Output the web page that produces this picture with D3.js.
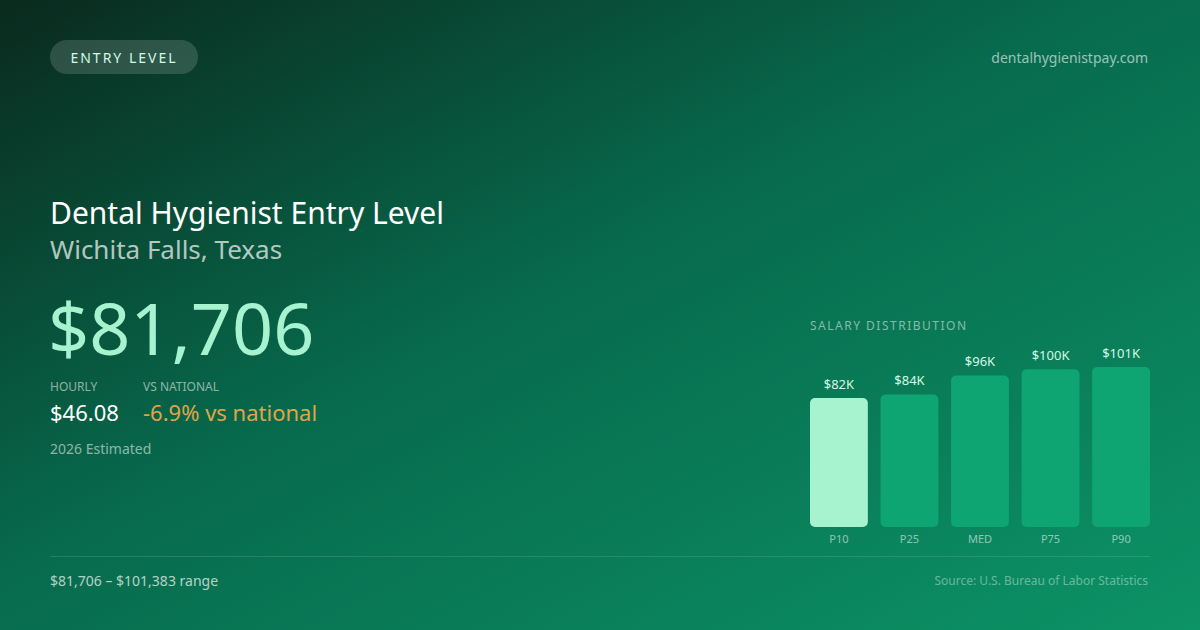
<!DOCTYPE html>
<html><head><meta charset="utf-8">
<script src="https://cdn.jsdelivr.net/npm/d3@7"></script>
<style>html,body{margin:0;padding:0;background:#06553d;}svg{display:block;font-family:"Noto Sans",sans-serif;}</style>
</head><body>
<script>
const categories = ["P10","P25","MED","P75","P90"];
const values = [81706, 84000, 96000, 100000, 101383];
const valueLabels = ["$82K","$84K","$96K","$100K","$101K"];

const W = 1200, H = 630;
const svg = d3.select("body").append("svg").attr("width", W).attr("height", H);
const defs = svg.append("defs");
const g = defs.append("linearGradient").attr("id","bg").attr("x1","0").attr("y1","0").attr("x2","1").attr("y2","1");
g.append("stop").attr("offset","0%").attr("stop-color","#0a2a1e");
g.append("stop").attr("offset","45%").attr("stop-color","#076a4c");
g.append("stop").attr("offset","100%").attr("stop-color","#0c9366");
svg.append("rect").attr("width",W).attr("height",H).attr("fill","url(#bg)");

// badge
svg.append("rect").attr("x",50).attr("y",40).attr("width",148).attr("height",34).attr("rx",17)
  .attr("fill","rgba(255,255,255,0.15)");
svg.append("text").attr("x",124).attr("y",63).attr("text-anchor","middle")
  .attr("font-size",14).attr("letter-spacing","2px").attr("fill","#d1fae5").text("ENTRY LEVEL");
svg.append("text").attr("x",1148).attr("y",63).attr("text-anchor","end")
  .attr("font-size",14).attr("fill","rgba(255,255,255,0.6)").text("dentalhygienistpay.com");

// titles
svg.append("text").attr("x",50).attr("y",224).attr("font-size",30).attr("fill","#ffffff").text("Dental Hygienist Entry Level");
svg.append("text").attr("x",50).attr("y",259).attr("font-size",26).attr("fill","rgba(255,255,255,0.7)").text("Wichita Falls, Texas");
svg.append("text").attr("x",48).attr("y",355).attr("font-size",72).attr("fill","#a7f3d0").text("$81,706");

svg.append("text").attr("x",50).attr("y",391).attr("font-size",12).attr("fill","rgba(255,255,255,0.55)").text("HOURLY");
svg.append("text").attr("x",143).attr("y",391).attr("font-size",12).attr("fill","rgba(255,255,255,0.55)").text("VS NATIONAL");
svg.append("text").attr("x",50).attr("y",421).attr("font-size",22).attr("fill","#ffffff").text("$46.08");
svg.append("text").attr("x",143).attr("y",421).attr("font-size",22).attr("fill","#e0a54a").text("-6.9% vs national");
svg.append("text").attr("x",50).attr("y",454).attr("font-size",14).attr("fill","rgba(255,255,255,0.55)").text("2026 Estimated");

// footer
svg.append("line").attr("x1",50).attr("x2",1150).attr("y1",556.5).attr("y2",556.5).attr("stroke","rgba(255,255,255,0.12)");
svg.append("text").attr("x",50).attr("y",586).attr("font-size",14).attr("fill","rgba(255,255,255,0.7)").text("$81,706 – $101,383 range");
svg.append("text").attr("x",1148).attr("y",585).attr("text-anchor","end").attr("font-size",12).attr("fill","rgba(255,255,255,0.4)").text("Source: U.S. Bureau of Labor Statistics");

// chart
svg.append("text").attr("x",810).attr("y",330).attr("font-size",12).attr("letter-spacing","1.5px").attr("fill","rgba(255,255,255,0.5)").text("SALARY DISTRIBUTION");
const x = d3.scaleBand().domain(categories).range([810,1150]).paddingInner(0.18).paddingOuter(0);
const y = d3.scaleLinear().domain([0, d3.max(values)]).range([527, 367]);
const data = categories.map((c,i)=>({c, v: values[i], l: valueLabels[i]}));
const cg = svg.append("g");
cg.selectAll("rect.bar").data(data).join("rect").attr("class","bar")
  .attr("x", d=>x(d.c)).attr("width", x.bandwidth())
  .attr("y", d=>y(d.v)).attr("height", d=>y(0)-y(d.v)).attr("rx",5)
  .attr("fill",(d,i)=> i===0 ? "#a7f3d0" : "#0fa572");
cg.selectAll("text.val").data(data).join("text").attr("class","val")
  .attr("x", d=>x(d.c)+x.bandwidth()/2).attr("y", d=>y(d.v)-9)
  .attr("text-anchor","middle").attr("font-size",13).attr("fill","#d1fae5").text(d=>d.l);
cg.selectAll("text.cat").data(data).join("text").attr("class","cat")
  .attr("x", d=>x(d.c)+x.bandwidth()/2).attr("y", 543)
  .attr("text-anchor","middle").attr("font-size",11).attr("fill","rgba(255,255,255,0.55)").text(d=>d.c);
</script>
</body></html>
